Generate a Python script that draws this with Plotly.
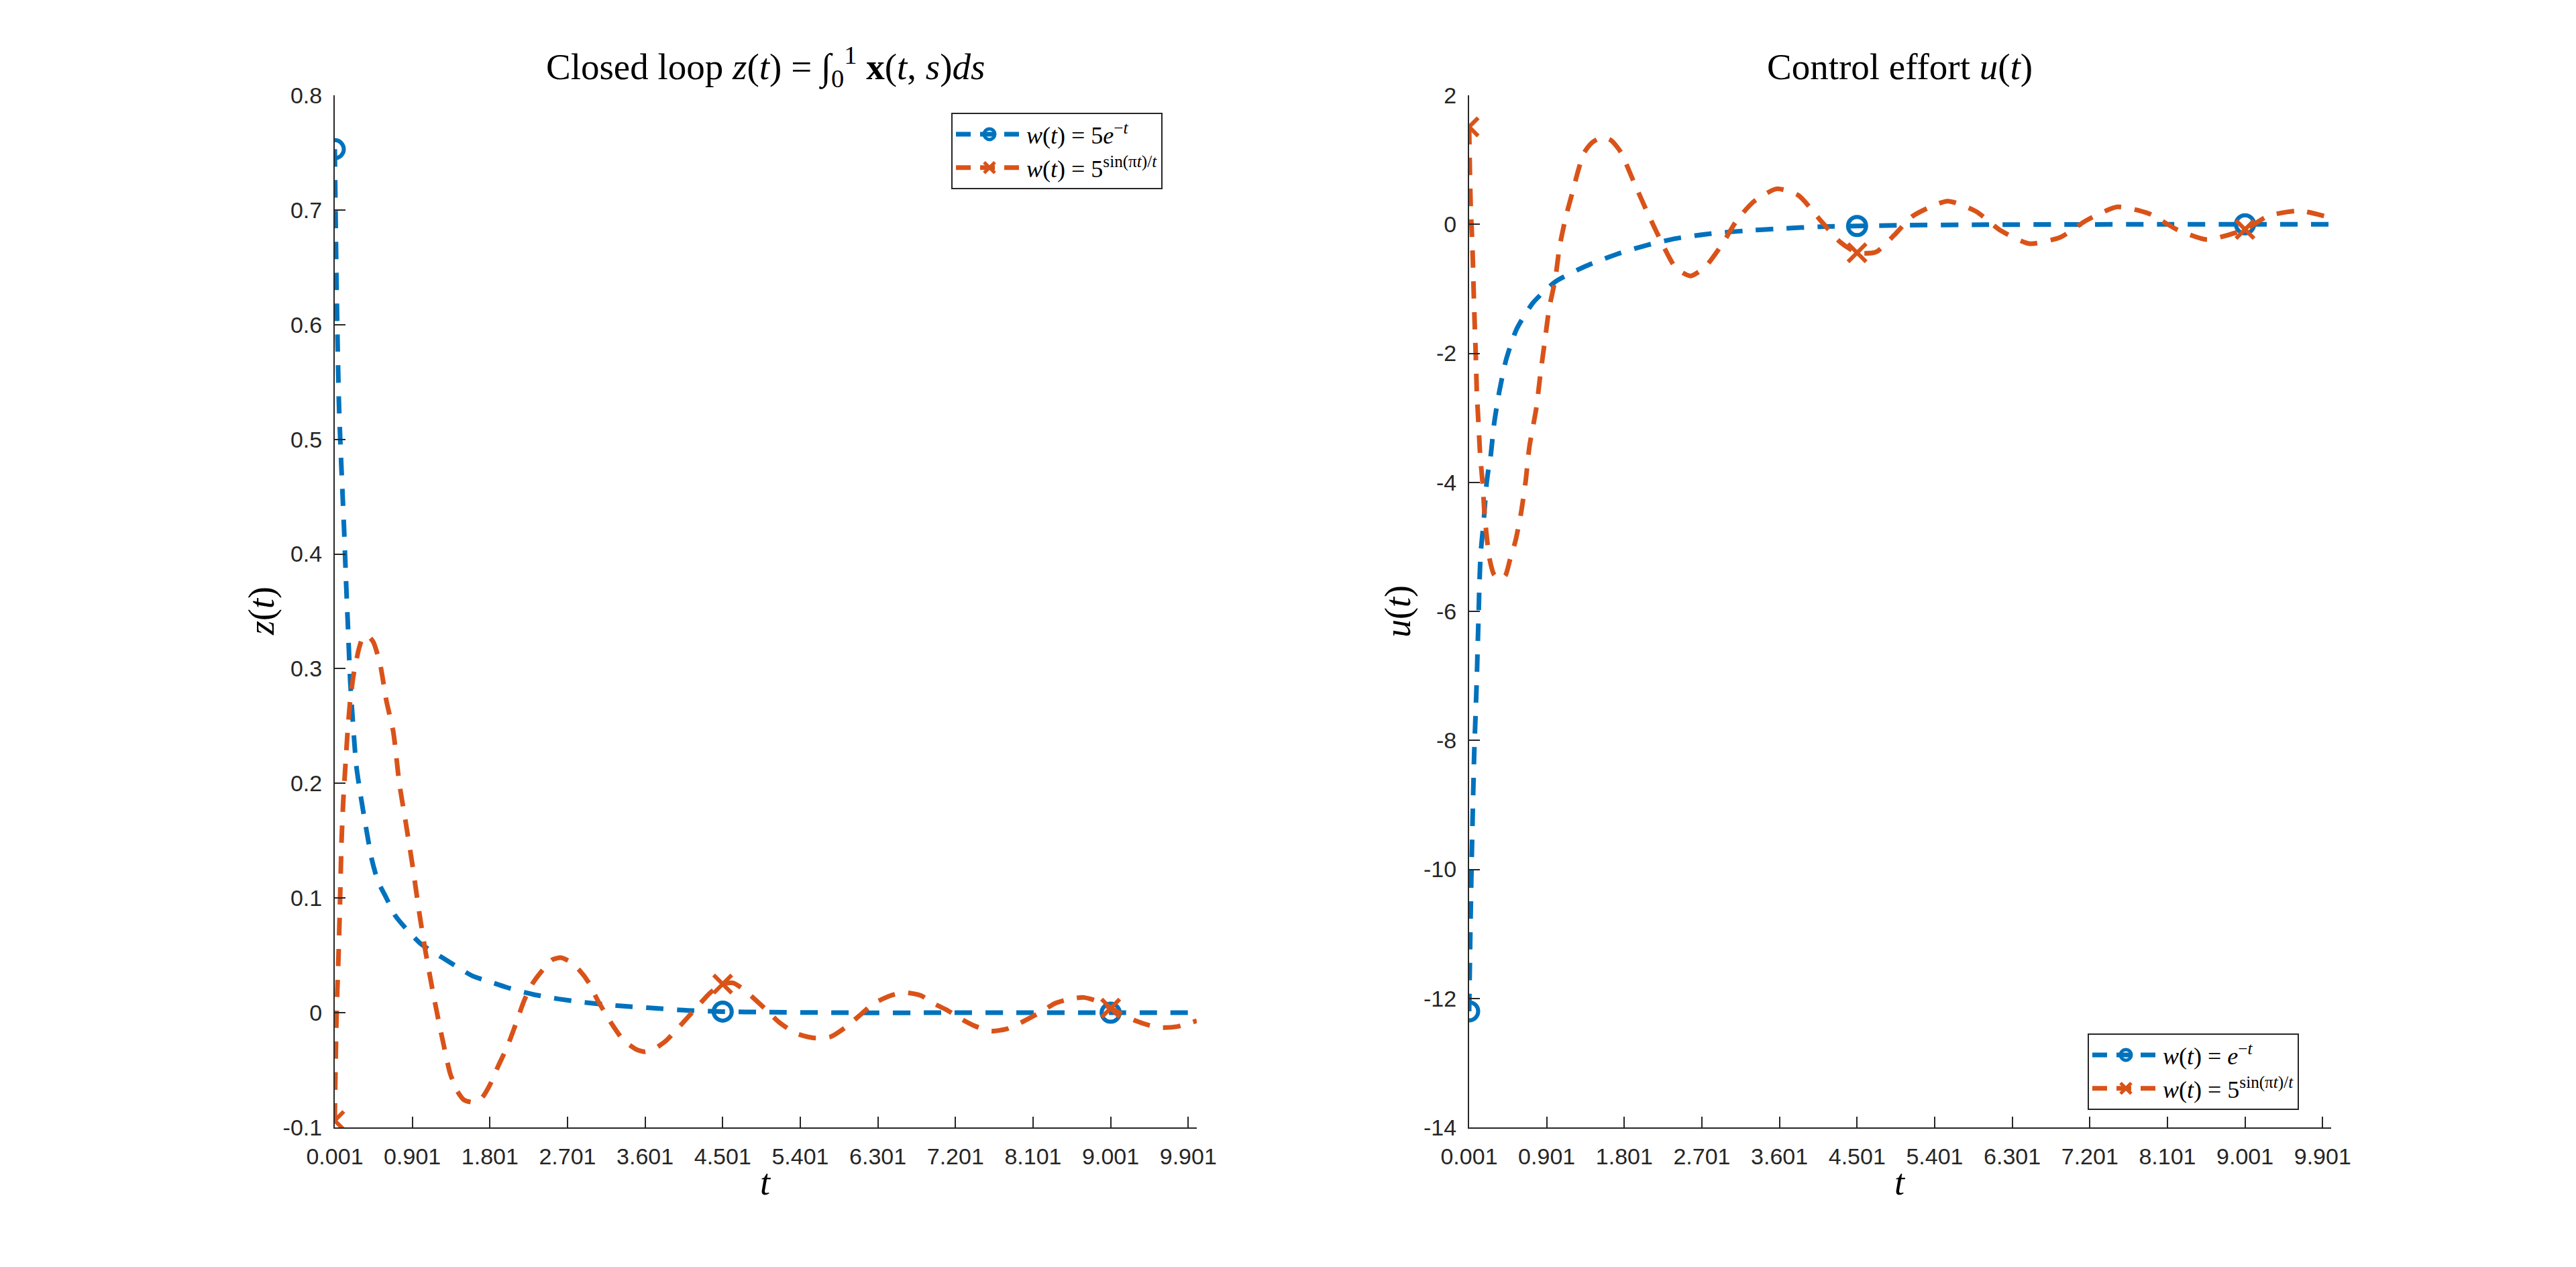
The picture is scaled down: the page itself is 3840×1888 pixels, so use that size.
import plotly.graph_objects as go

# values
t_z_exp = [0.001, 0.01, 0.02, 0.035, 0.05, 0.07, 0.09, 0.11, 0.13, 0.155, 0.18, 0.21, 0.25, 0.3, 0.36,
           0.43, 0.5, 0.6, 0.7, 0.82, 1.0, 1.25, 1.4, 1.6, 1.8, 2.0, 2.3, 2.6, 2.9, 3.3, 3.7, 4.1,
           4.5, 5.0, 6.0, 7.0, 8.0, 9.0, 10.0]
z_exp = [0.753, 0.70, 0.645, 0.58, 0.53, 0.49, 0.455, 0.42, 0.38, 0.335, 0.29, 0.255, 0.216, 0.19, 0.163,
         0.134, 0.115, 0.1, 0.085, 0.074, 0.06, 0.048, 0.041, 0.032, 0.027, 0.022, 0.016, 0.012, 0.009, 0.006,
         0.004, 0.002, 0.001, 0.0005, 0.0, 0.0, 0.0, 0.0, 0.0]

t_z_sinc = [0.001, 0.005, 0.013, 0.02, 0.03, 0.045, 0.06, 0.08, 0.1, 0.12, 0.15, 0.18, 0.22, 0.28, 0.32,
            0.38, 0.45, 0.53, 0.6, 0.68, 0.75, 0.82, 0.9, 0.98, 1.05, 1.13, 1.2, 1.27, 1.34, 1.42, 1.5,
            1.6, 1.7, 1.8, 1.9, 2.0, 2.1, 2.2, 2.3, 2.42, 2.52, 2.62, 2.72, 2.84, 2.95, 3.05, 3.2, 3.35,
            3.5, 3.6, 3.72, 3.85, 4.0, 4.18, 4.35, 4.5, 4.62, 4.75, 4.87, 5.0, 5.15, 5.35, 5.56, 5.75,
            5.92, 6.08, 6.25, 6.45, 6.61, 6.8, 6.95, 7.11, 7.28, 7.44, 7.62, 7.8, 7.95, 8.2, 8.35, 8.53,
            8.69, 8.85, 9.0, 9.15, 9.29, 9.45, 9.6, 9.78, 10.0]
z_sinc = [-0.094, -0.071, -0.038, -0.01, 0.018, 0.05, 0.09, 0.15, 0.185, 0.21, 0.245, 0.272, 0.295, 0.317,
          0.326, 0.329, 0.323, 0.303, 0.272, 0.245, 0.2, 0.168, 0.13, 0.088, 0.055, 0.022, -0.005, -0.03,
          -0.053, -0.068, -0.076, -0.078, -0.075, -0.063, -0.046, -0.03, -0.01, 0.011, 0.026, 0.038, 0.046,
          0.048, 0.045, 0.037, 0.026, 0.011, -0.008, -0.024, -0.032, -0.034, -0.031, -0.024, -0.012, 0.003,
          0.017, 0.025, 0.026, 0.02, 0.012, 0.003, -0.008, -0.018, -0.022, -0.021, -0.013, -0.003, 0.008,
          0.015, 0.0176, 0.015, 0.008, 0.002, -0.006, -0.012, -0.016, -0.014, -0.009, 0.001, 0.008, 0.012,
          0.0133, 0.01, 0.004, -0.002, -0.007, -0.011, -0.013, -0.012, -0.007]

t_u_exp = [0.001, 0.015, 0.03, 0.045, 0.06, 0.077, 0.09, 0.1, 0.11, 0.12, 0.135, 0.17, 0.205, 0.23, 0.25,
           0.29, 0.35, 0.43, 0.55, 0.74, 1.0, 1.35, 1.72, 2.07, 2.4, 2.8, 3.2, 3.6, 4.1, 4.5, 5.0, 6.0,
           7.0, 8.0, 9.0, 10.0]
u_exp = [-12.2, -11.0, -9.9, -9.0, -8.2, -7.55, -7.05, -6.55, -6.1, -5.6, -5.1, -4.6, -4.0, -3.75, -3.6,
         -3.1, -2.6, -2.1, -1.63, -1.22, -0.89, -0.65, -0.46, -0.32, -0.22, -0.145, -0.1, -0.067, -0.036,
         -0.026, -0.015, -0.006, -0.002, 0.0, 0.0, 0.0]

t_u_sinc = [0.001, 0.005, 0.01, 0.02, 0.035, 0.045, 0.055, 0.067, 0.08, 0.09, 0.11, 0.13, 0.16, 0.18, 0.21,
            0.24, 0.29, 0.35, 0.42, 0.475, 0.54, 0.6, 0.655, 0.7, 0.78, 0.83, 0.88, 0.93, 1.0, 1.05, 1.12,
            1.19, 1.27, 1.33, 1.43, 1.54, 1.65, 1.76, 1.91, 2.07, 2.23, 2.4, 2.57, 2.74, 2.95, 3.1, 3.3,
            3.57, 3.82, 4.09, 4.3, 4.5, 4.72, 4.93, 5.15, 5.55, 5.88, 6.17, 6.5, 6.86, 7.16, 7.52, 7.88,
            8.21, 8.56, 9.0, 9.27, 9.63, 10.0]
u_sinc = [1.51, 1.2, 0.8, 0.25, -0.2, -0.6, -1.1, -1.6, -2.1, -2.6, -3.1, -3.6, -4.05, -4.5, -4.9, -5.2,
          -5.43, -5.5, -5.45, -5.2, -4.9, -4.5, -4.0, -3.45, -2.85, -2.3, -1.8, -1.3, -0.85, -0.35, 0.1,
          0.45, 0.85, 1.1, 1.27, 1.35, 1.3, 1.12, 0.66, 0.18, -0.27, -0.68, -0.8, -0.66, -0.28, 0.05, 0.35,
          0.55, 0.45, 0.04, -0.27, -0.44, -0.43, -0.17, 0.13, 0.36, 0.2, -0.1, -0.3, -0.2, 0.06, 0.27, 0.17,
          -0.08, -0.236, -0.08, 0.13, 0.21, 0.1]

# marker positions (every 4500th sample)
t_marks = [0.001, 4.501, 9.001]
z_exp_marks = [0.753, 0.001, 0.0]
z_sinc_marks = [-0.094, 0.025, 0.004]
u_exp_marks = [-12.2, -0.026, 0.0]
u_sinc_marks = [1.51, -0.44, -0.08]

x_ticks = [0.001, 0.901, 1.801, 2.701, 3.601, 4.501, 5.401, 6.301, 7.201, 8.101, 9.001, 9.901]
x_ticktext = ["0.001", "0.901", "1.801", "2.701", "3.601", "4.501", "5.401", "6.301", "7.201", "8.101",
              "9.001", "9.901"]
z_ticks = [-0.1, 0, 0.1, 0.2, 0.3, 0.4, 0.5, 0.6, 0.7, 0.8]
z_ticktext = ["-0.1", "0", "0.1", "0.2", "0.3", "0.4", "0.5", "0.6", "0.7", "0.8"]
u_ticks = [-14, -12, -10, -8, -6, -4, -2, 0, 2]
u_ticktext = ["-14", "-12", "-10", "-8", "-6", "-4", "-2", "0", "2"]

BLUE = "#0072BD"
ORANGE = "#D95319"
AXC = "#262626"
SERIF = "Liberation Serif"
SANS = "Liberation Sans"
DASH = "26px,20px"
W, H = 3840, 1888
OFF = 8  # page offset of the plot div


def px(x):
    return (x - OFF) / W


def py(y):
    return 1 - (y - OFF) / H


lab_exp_z = "<i>w</i>(<i>t</i>) = 5<i>e</i><sup>−<i>t</i></sup>"
lab_exp_u = "<i>w</i>(<i>t</i>) = <i>e</i><sup>−<i>t</i></sup>"
lab_sinc = "<i>w</i>(<i>t</i>) = 5<sup>sin(π<i>t</i>)/<i>t</i></sup>"

fig = go.Figure()


def add_series(t, y, tm, ym, color, symbol, name, xa, ya, leg):
    fig.add_trace(go.Scatter(x=t, y=y, mode="lines", xaxis=xa, yaxis=ya, showlegend=False,
                             line=dict(color=color, width=7, dash=DASH, shape="spline", smoothing=0.6)))
    fig.add_trace(go.Scatter(x=tm, y=ym, mode="markers", xaxis=xa, yaxis=ya, showlegend=False,
                             marker=dict(symbol=symbol, size=27, color=color,
                                         line=dict(color=color, width=6))))
    # legend entry (line + marker sample)
    fig.add_trace(go.Scatter(x=[None], y=[None], mode="lines+markers", xaxis=xa, yaxis=ya, name=name,
                             legend=leg, line=dict(color=color, width=7, dash="22px,14px"),
                             marker=dict(symbol=symbol, size=16, color=color,
                                         line=dict(color=color, width=5))))


add_series(t_z_exp, z_exp, t_marks, z_exp_marks, BLUE, "circle-open", lab_exp_z, "x", "y", "legend")
add_series(t_z_sinc, z_sinc, t_marks, z_sinc_marks, ORANGE, "x-thin-open", lab_sinc, "x", "y", "legend")
add_series(t_u_exp, u_exp, t_marks, u_exp_marks, BLUE, "circle-open", lab_exp_u, "x2", "y2", "legend2")
add_series(t_u_sinc, u_sinc, t_marks, u_sinc_marks, ORANGE, "x-thin-open", lab_sinc, "x2", "y2", "legend2")

axis_common = dict(showline=True, linecolor=AXC, linewidth=2, ticks="inside", ticklen=16, tickwidth=2,
                   tickcolor=AXC, showgrid=False, zeroline=False, mirror=False, automargin=False,
                   tickfont=dict(family=SANS, size=34, color=AXC))

legend_common = dict(bgcolor="white", bordercolor=AXC, borderwidth=2, itemwidth=100,
                     font=dict(family=SERIF, size=36, color="black"), tracegroupgap=0)

fig.update_layout(
    width=W, height=H,
    margin=dict(l=0, r=0, t=0, b=0),
    paper_bgcolor="white", plot_bgcolor="white",
    xaxis=dict(domain=[px(499), px(1784)], range=[0.001, 10], tickvals=x_ticks, ticktext=x_ticktext,
               anchor="y", ticklabelstandoff=12, **axis_common),
    yaxis=dict(domain=[py(1680), py(142)], range=[-0.1, 0.8], tickvals=z_ticks, ticktext=z_ticktext,
               anchor="x", ticklabelstandoff=10, **axis_common),
    xaxis2=dict(domain=[px(2190), px(3475)], range=[0.001, 10], tickvals=x_ticks, ticktext=x_ticktext,
                anchor="y2", ticklabelstandoff=12, **axis_common),
    yaxis2=dict(domain=[py(1680), py(142)], range=[-14, 2], tickvals=u_ticks, ticktext=u_ticktext,
                anchor="x2", ticklabelstandoff=10, **axis_common),
    legend=dict(x=px(1418), y=py(168), xanchor="left", yanchor="top", **legend_common),
    legend2=dict(x=px(3112), y=py(1654), xanchor="left", yanchor="bottom", **legend_common),
)

title_font = dict(family=SERIF, size=55, color="black")
lab_font = dict(family=SERIF, size=54, color="black")


def add_text(x, y, text, font, angle=0):
    fig.add_annotation(x=px(x), y=py(y), xref="paper", yref="paper", xanchor="center", yanchor="middle",
                       showarrow=False, font=font, text=text, textangle=angle)


add_text(1141, 100,
         "Closed loop <i>z</i>(<i>t</i>) = ∫<sub>0</sub><sup>1</sup> <b>x</b>(<i>t</i>, <i>s</i>)<i>ds</i>",
         title_font)
add_text(2832, 100, "Control effort <i>u</i>(<i>t</i>)", title_font)
add_text(1141, 1762, "<i>t</i>", lab_font)
add_text(2832, 1762, "<i>t</i>", lab_font)
add_text(390, 911, "<i>z</i>(<i>t</i>)", lab_font, -90)
add_text(2084, 911, "<i>u</i>(<i>t</i>)", lab_font, -90)

fig.write_html("out.html")
